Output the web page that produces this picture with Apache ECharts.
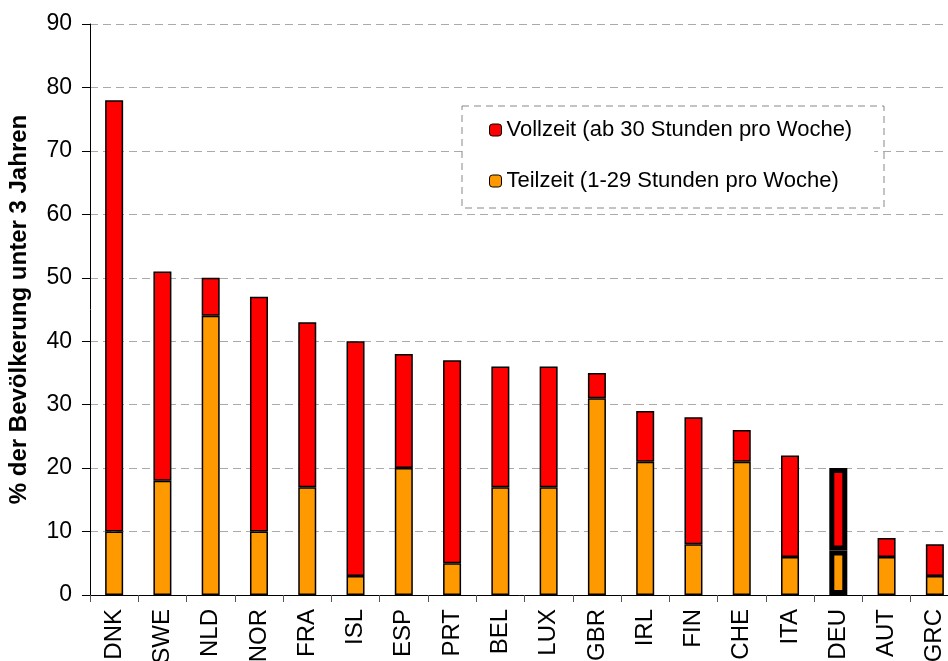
<!DOCTYPE html>
<html>
<head>
<meta charset="utf-8">
<script src="https://cdn.jsdelivr.net/npm/echarts@6/dist/echarts.min.js"></script>
<style>
  html, body { margin: 0; padding: 0; background: #fff; }
  #chart { width: 948px; height: 661px; }
</style>
</head>
<body>
<div id="chart"></div>
<script>
const countries = ['DNK', 'SWE', 'NLD', 'NOR', 'FRA', 'ISL', 'ESP', 'PRT', 'BEL', 'LUX', 'GBR', 'IRL', 'FIN', 'CHE', 'ITA', 'DEU', 'AUT', 'GRC']
// Teilzeit (unterer Teil) und Vollzeit (oberer Teil), in %
const teilzeit = [10, 18, 44, 10, 17, 3, 20, 5, 17, 17, 31, 21, 8, 21, 6, 7, 6, 3]
const vollzeit = [68, 33, 6, 37, 26, 37, 18, 32, 19, 19, 4, 8, 20, 5, 16, 13, 3, 5]
const highlight = 'DEU'

const FONT = 'Liberation Sans, Arial, sans-serif'
const nameVoll = 'Vollzeit (ab 30 Stunden pro Woche)'
const nameTeil = 'Teilzeit (1-29 Stunden pro Woche)'

// DEU bekommt einen dicken Rahmen
const withHighlight = (arr) => arr.map((v, i) => countries[i] === highlight
  ? { value: v, itemStyle: { borderWidth: 5 } }
  : v)

const chart = echarts.init(document.getElementById('chart'))

const option = {
  animation: false,
  textStyle: { fontFamily: FONT },
  grid: { left: 90, top: 24, bottom: 66, width: 869, outerBoundsMode: 'none', containLabel: false },
  legend: {
    orient: 'vertical',
    left: 462,
    top: 106,
    data: [nameVoll, nameTeil],
    itemWidth: 12,
    itemHeight: 12,
    itemGap: 27,
    padding: [12, 22, 15, 27],
    backgroundColor: '#fff',
    textStyle: { fontSize: 22, color: '#000', lineHeight: 24, fontFamily: FONT },
    itemStyle: { borderColor: '#000', borderWidth: 1 }
  },
  graphic: [{
    type: 'rect',
    z: 100,
    shape: { x: 462, y: 106, width: 422, height: 102 },
    style: { fill: 'none', stroke: '#888', lineWidth: 1, lineDash: [7, 5] }
  }],
  xAxis: {
    type: 'category',
    data: countries,
    axisLine: { lineStyle: { color: '#000', width: 1 } },
    axisTick: { show: true, length: 7, lineStyle: { color: '#555' } },
    axisLabel: { rotate: 90, margin: 14, fontSize: 24, color: '#000', fontFamily: FONT, interval: 0, hideOverlap: false }
  },
  yAxis: {
    type: 'value',
    min: 0,
    max: 90,
    interval: 10,
    name: '% der Bevölkerung unter 3 Jahren',
    nameLocation: 'middle',
    nameGap: 59,
    nameTextStyle: { fontSize: 24, fontWeight: 'bold', color: '#000', fontFamily: FONT },
    axisLine: { show: true, lineStyle: { color: '#000', width: 1 } },
    axisTick: { show: true, length: 8, lineStyle: { color: '#000' } },
    axisLabel: { margin: 18, fontSize: 23, color: '#000', fontFamily: FONT },
    splitLine: { lineStyle: { color: '#aaa', type: [8, 5], width: 1 } }
  },
  series: [
    {
      name: nameTeil,
      type: 'bar',
      stack: 'total',
      barWidth: 18,
      itemStyle: { color: '#FF9900', borderColor: '#000', borderWidth: 1.5 },
      data: withHighlight(teilzeit)
    },
    {
      name: nameVoll,
      type: 'bar',
      stack: 'total',
      barWidth: 18,
      itemStyle: { color: '#FF0000', borderColor: '#000', borderWidth: 1.5 },
      data: withHighlight(vollzeit)
    }
  ]
}

chart.setOption(option)
</script>
</body>
</html>
